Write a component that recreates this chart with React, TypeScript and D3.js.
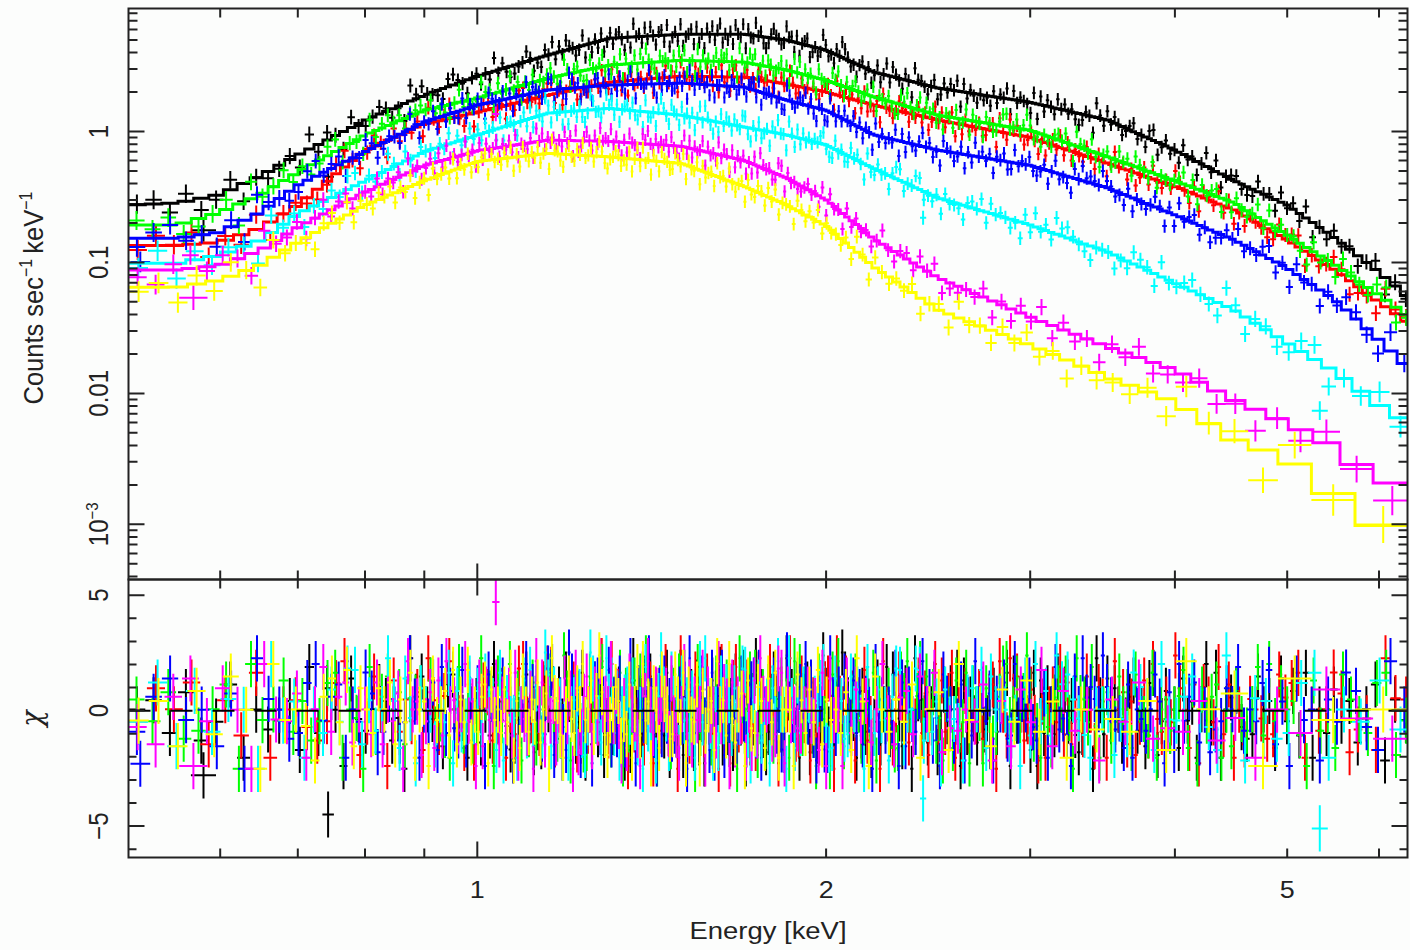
import React from 'react';
import * as d3 from 'd3';

// ---------- data ----------
// model knots (counts s^-1 keV^-1) at these energies (keV)
const KNOT_E = [0.5, 0.55, 0.6, 0.65, 0.7, 0.8, 0.9, 1.0, 1.15, 1.3, 1.5, 1.7, 1.85, 2.0, 2.2, 2.5, 3.0, 3.5, 4.0, 4.5, 5.0, 5.5, 6.0, 6.4];

const modelBlack = [0.274, 0.284, 0.33, 0.46, 0.66, 1.22, 1.89, 2.64, 3.82, 5.15, 5.53, 5.53, 4.98, 4.17, 2.84, 2.14, 1.67, 1.22, 0.72, 0.42, 0.274, 0.153, 0.0843, 0.0515];
const modelRed = [0.135, 0.135, 0.143, 0.183, 0.274, 0.72, 1.14, 1.40, 1.89, 2.38, 2.64, 2.60, 2.30, 2.00, 1.59, 1.22, 0.90, 0.57, 0.38, 0.251, 0.148, 0.0873, 0.0497, 0.0333];
const modelGreen = [0.193, 0.193, 0.242, 0.33, 0.49, 0.94, 1.45, 1.80, 2.55, 3.21, 3.50, 3.38, 2.94, 2.46, 1.83, 1.33, 1.02, 0.64, 0.42, 0.284, 0.161, 0.0953, 0.0562, 0.0376];
const modelBlue = [0.153, 0.153, 0.170, 0.242, 0.39, 0.70, 1.18, 1.59, 2.07, 2.26, 2.34, 2.18, 1.73, 1.45, 0.94, 0.72, 0.55, 0.37, 0.230, 0.148, 0.0904, 0.0515, 0.0255, 0.0150];
const modelCyan = [0.0987, 0.0987, 0.114, 0.148, 0.234, 0.42, 0.70, 0.94, 1.38, 1.50, 1.33, 1.08, 0.94, 0.79, 0.52, 0.31, 0.193, 0.120, 0.0695, 0.0432, 0.0242, 0.0146, 0.00814, 0.00580];
const modelMagenta = [0.0873, 0.0873, 0.0953, 0.124, 0.186, 0.344, 0.55, 0.71, 0.86, 0.84, 0.77, 0.60, 0.44, 0.30, 0.150, 0.0759, 0.0383, 0.0226, 0.0151, 0.00889, 0.00593, 0.00389, 0.00207, 0.00207];
const modelYellow = [0.0647, 0.0647, 0.0733, 0.0953, 0.143, 0.274, 0.42, 0.59, 0.68, 0.64, 0.57, 0.38, 0.274, 0.19, 0.092, 0.0432, 0.0234, 0.0133, 0.00858, 0.0044, 0.0032, 0.00167, 0.000986, 0.000953];

// residuals, one digit per spectral bin, low to high energy.
// chi = CHI_OF_DIGIT[digit] scaled by the following digit (finer reading of the scatter)
const CHI_OF_DIGIT = [-3.0, -2.0, -1.35, -0.85, -0.4, 0.05, 0.5, 0.95, 1.45, 2.1];
const residBlack =
  '5637248153462937518435762419685432786415625394731245861327593748652491' +
  '5263814736741529563848526739146391457282517483692536285491744957213686' +
  '5349672815681352497342759863415736148259386427519664258137475918364253' +
  '4273659184654291837538574621365196384752468352791473528461594915673238' +
  '56284739153746258164';
const residRed =
  '4758263915632479514851836472963695428157724615389445378926156812435749' +
  '5394726183462581735937519642486438527193517934682528645937174596238451' +
  '6325784196584716392437195425866254837149483691527354723681953968524741' +
  '6157493826438527615957261483943649752817649381526542386791535871342966';
const residGreen =
  '6472358194583624791541936857266758342159352496718459471638254685239716' +
  '7312854693526491734838596421756427385914519374625847682531963586914727' +
  '6245837159593746218543186952746852473916547312869536948572416528349175' +
  '4175236894584697231532675841966493157248572864391543569281746815274359' +
  '39475621835286437914';
const residBlue =
  '3684527196523794681548713652496154829373392647518654837162594765238914' +
  '6329857143517836492638426951754596217384623574819637584629155914376248' +
  '4267839155648351297435769482165129637485483726519363549182743695724186' +
  '5248163957471658239465832471593421859676597634281543586172946825134759' +
  '35479261845164873295';
const residCyan =
  '4827365194615374892635962841755264917348473856291664158392753982746151' +
  '5637214984425968371567483251933516974286528463715949631528476375489216' +
  '3824617595519628374646579312846238574193374516892558924361744316759285' +
  '65241839473978642155514387629446853297166237915483';
const residMagenta =
  '3268475194471593682553826471956147283956359461827458264739154371958264' +
  '6253847191368527495659473162854218695374657384215938264591745394761826' +
  '4715283965623891745335746291845183746259426738591335481627492735164823' +
  '3624153742';
const residYellow =
  '4627385194531684927537582649156184573926492536817453749162853648257196' +
  '6215843759458369721457624381593946175286523864917448173562956394257183' +
  '3762849155518637492645372961853648157294527483615343629571845';

// binning exponent per series (faint spectra are grouped into wider bins)
const BIN_POWER = [0.45, 0.45, 0.45, 0.5, 0.55, 0.6, 0.62];

// individually read outlying bins
const OUTLIER_SERIES = [0, 0, 5, 4, 4, 3, 5];
const OUTLIER_E0 = [0.566, 0.735, 1.03, 5.25, 2.41, 0.502, 0.553];
const OUTLIER_E1 = [0.595, 0.752, 1.045, 5.42, 2.44, 0.522, 0.585];
const OUTLIER_CHI = [-2.8, -4.5, 4.7, -5.1, -3.8, -2.3, -2.4];

const COLORS = ['#000000', '#ff0000', '#00ff00', '#0000ff', '#00ffff', '#ff00ff', '#ffff00'];
const MODELS = [modelBlack, modelRed, modelGreen, modelBlue, modelCyan, modelMagenta, modelYellow];
const RESIDS = [residBlack, residRed, residGreen, residBlue, residCyan, residMagenta, residYellow];

const X_LABELS = [1, 2, 5];
const Y_LABELS = [0.001, 0.01, 0.1, 1];
const CHI_LABELS = [-5, 0, 5];

// ---------- layout ----------
const W = 1410, H = 950;
const X0 = 128.5, X1 = 1407.5;
const TY0 = 8.5, TY1 = 579.5, BY1 = 857.5;
const FONT = "'Liberation Sans', Arial, Helvetica, sans-serif";
const INK = '#222';
const STRETCH = 1.12;

const x = d3.scaleLog().domain([0.5, 6.35]).range([X0, X1]);
const yT = d3.scaleLog().domain([3.79e-4, 8.69]).range([TY1, TY0]);
const yB = d3.scaleLinear().domain([-6.36, 5.68]).range([BY1, TY1]);

const EMIN = 0.5, EMAX = 6.4;

type Bin = { e0: number; e1: number; chi: number };

function decode(codes: string) {
  const ds = codes.split('').map(Number);
  return ds.map((d, i) => CHI_OF_DIGIT[d] * (0.72 + 0.06 * ds[(i + 1) % ds.length]));
}

function buildSeries(model: number[], codes: string, power: number) {
  const resid = decode(codes);
  const m = d3.scaleLinear().domain(KNOT_E.map(Math.log10)).range(model.map(Math.log10)).clamp(true);
  const u0 = Math.log10(EMIN), u1 = Math.log10(EMAX);
  const steps = 6000;
  const cum = [0];
  for (let i = 1; i <= steps; i++) {
    const u = u0 + (u1 - u0) * (i - 0.5) / steps;
    cum.push(cum[i - 1] + Math.pow(Math.pow(10, m(u) + u), power));
  }
  const n = resid.length;
  const total = cum[steps];
  const edges = [u0];
  let j = 0;
  for (let k = 1; k < n; k++) {
    const target = total * k / n;
    while (cum[j + 1] < target) j++;
    const frac = (target - cum[j]) / (cum[j + 1] - cum[j]);
    edges.push(u0 + (u1 - u0) * (j + frac) / steps);
  }
  edges.push(u1);
  const bins: Bin[] = resid.map((chi, i) => ({ e0: Math.pow(10, edges[i]), e1: Math.pow(10, edges[i + 1]), chi }));
  return { m, bins };
}

function crossPaths(m: any, bins: Bin[]) {
  let top = '', bot = '';
  bins.forEach(b => {
    const xa = x(b.e0), xb = x(b.e1);
    const ec = Math.sqrt(b.e0 * b.e1);
    const xc = x(ec);
    const lm = m(Math.log10(ec));
    const sig = Math.min(0.42, 0.1 + 0.005 * (xb - xa));
    const d = Math.log10(1 + sig);
    const ld = lm + b.chi * d;
    top += `M${xa.toFixed(1)},${yT(Math.pow(10, ld)).toFixed(1)}H${xb.toFixed(1)}M${xc.toFixed(1)},${yT(Math.pow(10, ld - d)).toFixed(1)}V${yT(Math.pow(10, ld + d)).toFixed(1)}`;
    bot += `M${xa.toFixed(1)},${yB(b.chi).toFixed(1)}H${xb.toFixed(1)}M${xc.toFixed(1)},${yB(b.chi - 1).toFixed(1)}V${yB(b.chi + 1).toFixed(1)}`;
  });
  return { top, bot };
}

function modelPath(m: any, bins: Bin[]) {
  let p = '';
  bins.forEach((b, i) => {
    const yv = yT(Math.pow(10, m(Math.log10(Math.sqrt(b.e0 * b.e1))))).toFixed(1);
    p += (i === 0 ? `M${x(b.e0).toFixed(1)},${yv}` : `V${yv}`) + `H${x(b.e1).toFixed(1)}`;
  });
  return p;
}

const SERIES = MODELS.map((model, s) => {
  const { m, bins } = buildSeries(model, RESIDS[s], BIN_POWER[s]);
  const extra: Bin[] = OUTLIER_SERIES
    .map((ss, k) => ({ ss, b: { e0: OUTLIER_E0[k], e1: OUTLIER_E1[k], chi: OUTLIER_CHI[k] } }))
    .filter(o => o.ss === s).map(o => o.b);
  const cp = crossPaths(m, bins.concat(extra));
  return { color: COLORS[s], top: cp.top, bot: cp.bot, model: modelPath(m, bins) };
});

const isDecade = (v: number) => Math.abs(Math.log10(v) - Math.round(Math.log10(v))) < 1e-6;

function Ticks() {
  const maj = 16, min = 9;
  let p = '';
  x.ticks().filter(t => t > 0.501 && t < 6.34).forEach(t => {
    const L = isDecade(t) ? maj : min;
    const xv = x(t).toFixed(1);
    p += `M${xv},${TY0}v${L}M${xv},${TY1}v${-L}M${xv},${TY1}v${L}M${xv},${BY1}v${-L}`;
  });
  yT.ticks().forEach(t => {
    const L = isDecade(t) ? maj : min;
    const yv = yT(t).toFixed(1);
    p += `M${X0},${yv}h${L}M${X1},${yv}h${-L}`;
  });
  d3.range(-6, 6).forEach(t => {
    const L = t % 5 === 0 ? maj : 8;
    const yv = yB(t).toFixed(1);
    p += `M${X0},${yv}h${L}M${X1},${yv}h${-L}`;
  });
  return <path d={p} stroke={INK} strokeWidth={2} fill="none" />;
}

function RotText({ x: tx, y: ty, size, family, italic, children }: any) {
  return (
    <text transform={`translate(${tx},${ty}) scale(${STRETCH},1) rotate(-90)`} textAnchor="middle"
      fontFamily={family || FONT} fontStyle={italic ? 'italic' : 'normal'} fontSize={size} fill={INK}>{children}</text>
  );
}

function HText({ x: tx, y: ty, size, children }: any) {
  return (
    <text transform={`translate(${tx},${ty}) scale(${STRETCH},1)`} textAnchor="middle"
      fontFamily={FONT} fontSize={size} fill={INK}>{children}</text>
  );
}

const fmtY = (v: number) => (v === 0.001 ? null : String(v));

export default function App() {
  return (
    <svg width={W} height={H} style={{ position: 'absolute', left: 0, top: 0, display: 'block' }}>
      <defs>
        <clipPath id="clipTop"><rect x={X0} y={TY0} width={X1 - X0} height={TY1 - TY0} /></clipPath>
        <clipPath id="clipBot"><rect x={X0} y={TY1} width={X1 - X0} height={BY1 - TY1} /></clipPath>
      </defs>
      <rect x={0} y={0} width={W} height={H} fill="#fcfdfc" />

      <g clipPath="url(#clipTop)">
        {SERIES.map((s, i) => (
          <g key={i}>
            <path d={s.top} stroke={s.color} strokeWidth={2} fill="none" />
            <path d={s.model} stroke={s.color} strokeWidth={3} fill="none" />
          </g>
        ))}
      </g>

      <g clipPath="url(#clipBot)">
        {SERIES.map((s, i) => (
          <path key={i} d={s.bot} stroke={s.color} strokeWidth={2} fill="none" />
        ))}
        <line x1={X0} x2={X1} y1={yB(0)} y2={yB(0)} stroke="#000" strokeWidth={2} strokeDasharray="22 20" />
      </g>

      <rect x={X0} y={TY0} width={X1 - X0} height={TY1 - TY0} fill="none" stroke={INK} strokeWidth={2} />
      <rect x={X0} y={TY1} width={X1 - X0} height={BY1 - TY1} fill="none" stroke={INK} strokeWidth={2} />
      <Ticks />

      {Y_LABELS.map(v => (
        <RotText key={v} x={108} y={yT(v)} size={24}>
          {fmtY(v) ?? (<>10<tspan dy={-9} fontSize={15}>−3</tspan></>)}
        </RotText>
      ))}
      {CHI_LABELS.map(v => (
        <RotText key={v} x={108} y={yB(v)} size={24}>{v < 0 ? `−${-v}` : String(v)}</RotText>
      ))}
      {X_LABELS.map(v => (
        <HText key={v} x={x(v)} y={898} size={24}>{String(v)}</HText>
      ))}

      <RotText x={43} y={(TY0 + TY1) / 2 + 4} size={25.5}>
        Counts sec<tspan dy={-10} fontSize={16}>−1</tspan><tspan dy={10}>{'\u2009'}keV</tspan><tspan dy={-10} fontSize={16}>−1</tspan>
      </RotText>
      <RotText x={42} y={(TY1 + BY1) / 2} size={27} family="'DejaVu Serif', serif" italic>χ</RotText>
      <HText x={(X0 + X1) / 2} y={939} size={24.5}>Energy [keV]</HText>
    </svg>
  );
}
